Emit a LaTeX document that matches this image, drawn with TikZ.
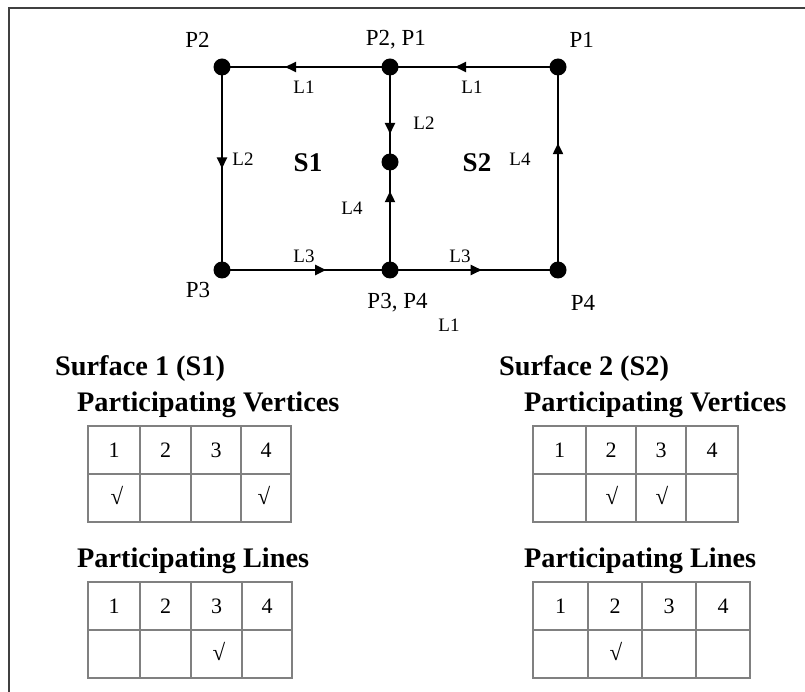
\documentclass[tikz,border=0pt]{standalone}
\usepackage{fontspec}
\setmainfont{Liberation Serif}
\usetikzlibrary{decorations.markings,arrows.meta}
\tikzset{
  vtx/.style={circle,fill=black,inner sep=0pt,minimum size=17pt},
  edgeline/.style={line width=2pt},
  am/.style={postaction={decorate},decoration={markings,
      mark=at position #1 with {\arrow{Triangle[length=11pt,width=10pt]}}}},
  plab/.style={font=\fontsize{23}{25}\selectfont,inner sep=0pt},
  llab/.style={font=\fontsize{19}{21}\selectfont,inner sep=0pt},
  slab/.style={font=\bfseries\fontsize{27}{29}\selectfont,inner sep=0pt},
  head/.style={font=\bfseries\fontsize{28.3}{31}\selectfont,inner sep=0pt,anchor=base west},
  cell/.style={font=\fontsize{22}{24}\selectfont,inner sep=0pt},
  chk/.style={font=\fontsize{23}{25}\selectfont,inner sep=0pt},
  gridline/.style={draw=black!50,line width=1.5pt},
  frameline/.style={draw=black!75,line width=2.5pt}
}
\begin{document}
\begin{tikzpicture}[x=1pt,y=-1pt]
\useasboundingbox (0,0) rectangle (805,692);
% frame
\draw[frameline] (9,692) -- (9,8) -- (805,8);

% vertices
\node[vtx] (tl) at (222,67) {};
\node[vtx] (tm) at (390,67) {};
\node[vtx] (tr) at (558,67) {};
\node[vtx] (mm) at (390,162) {};
\node[vtx] (bl) at (222,270) {};
\node[vtx] (bm) at (390,270) {};
\node[vtx] (br) at (558,270) {};

% edges
\draw[edgeline,am=0.625] (tm.center) -- (tl.center);
\draw[edgeline,am=0.613] (tr.center) -- (tm.center);
\draw[edgeline,am=0.50] (tl.center) -- (bl.center);
\draw[edgeline,am=0.705] (tm.center) -- (mm.center);
\draw[edgeline,am=0.73] (bm.center) -- (mm.center);
\draw[edgeline,am=0.625] (br.center) -- (tr.center);
\draw[edgeline,am=0.62] (bl.center) -- (bm.center);
\draw[edgeline,am=0.546] (bm.center) -- (br.center);

% point labels
\node[plab] (p2) at (197.5,40) {P2};
\node[plab] (p21) at (395.8,40) {P2, P1};
\node[plab] (p1) at (581.7,40) {P1};
\node[plab] (p3) at (198,290) {P3};
\node[plab] (p34) at (397.5,303) {P3, P4};
\node[plab] (p4) at (583,303) {P4};

% line labels
\node[llab] (l1a) at (304,87) {L1};
\node[llab] (l1b) at (472,87) {L1};
\node[llab] (l2a) at (243,159) {L2};
\node[llab] (l2b) at (424,123) {L2};
\node[llab] (l4a) at (520,159) {L4};
\node[llab] (l4b) at (352,208) {L4};
\node[llab] (l3a) at (304,256) {L3};
\node[llab] (l3b) at (460,256) {L3};
\node[llab] (l1c) at (449,325) {L1};

% surface labels
\node[slab] (s1) at (308,163) {S1};
\node[slab] (s2) at (477,163) {S2};

% headings
\node[head] (h1) at (55,375) {Surface 1 (S1)};
\node[head] (h1v) at (77,411) {Participating Vertices};
\node[head] (h1l) at (77,567) {Participating Lines};
\node[head] (h2) at (499,375) {Surface 2 (S2)};
\node[head] (h2v) at (524,411) {Participating Vertices};
\node[head] (h2l) at (524,567) {Participating Lines};

% table 1: S1 vertices
\draw[gridline] (88,426) rectangle (291,522);
\draw[gridline] (88,474) -- (291,474);
\foreach \x in {140,191,241} \draw[gridline] (\x,426) -- (\x,522);
\node[cell] (a1) at (114,450) {1};
\node[cell] (a2) at (165.5,450) {2};
\node[cell] (a3) at (216,450) {3};
\node[cell] (a4) at (266,450) {4};
\node[chk] (ac1) at (117,495) {√};
\node[chk] (ac4) at (264,495) {√};

% table 2: S1 lines
\draw[gridline] (88,582) rectangle (292,678);
\draw[gridline] (88,630) -- (292,630);
\foreach \x in {140,191,242} \draw[gridline] (\x,582) -- (\x,678);
\node[cell] (b1) at (114,606) {1};
\node[cell] (b2) at (165.5,606) {2};
\node[cell] (b3) at (216.5,606) {3};
\node[cell] (b4) at (267,606) {4};
\node[chk] (bc3) at (219,651) {√};

% table 3: S2 vertices
\draw[gridline] (533,426) rectangle (738,522);
\draw[gridline] (533,474) -- (738,474);
\foreach \x in {586,636,686} \draw[gridline] (\x,426) -- (\x,522);
\node[cell] (c1) at (559.5,450) {1};
\node[cell] (c2) at (611,450) {2};
\node[cell] (c3) at (661,450) {3};
\node[cell] (c4) at (712,450) {4};
\node[chk] (cc2) at (612,495) {√};
\node[chk] (cc3) at (662,495) {√};

% table 4: S2 lines
\draw[gridline] (533,582) rectangle (750,678);
\draw[gridline] (533,630) -- (750,630);
\foreach \x in {588,642,696} \draw[gridline] (\x,582) -- (\x,678);
\node[cell] (d1) at (560.5,606) {1};
\node[cell] (d2) at (615,606) {2};
\node[cell] (d3) at (669,606) {3};
\node[cell] (d4) at (723,606) {4};
\node[chk] (dc2) at (616,651) {√};
\end{tikzpicture}
\end{document}
